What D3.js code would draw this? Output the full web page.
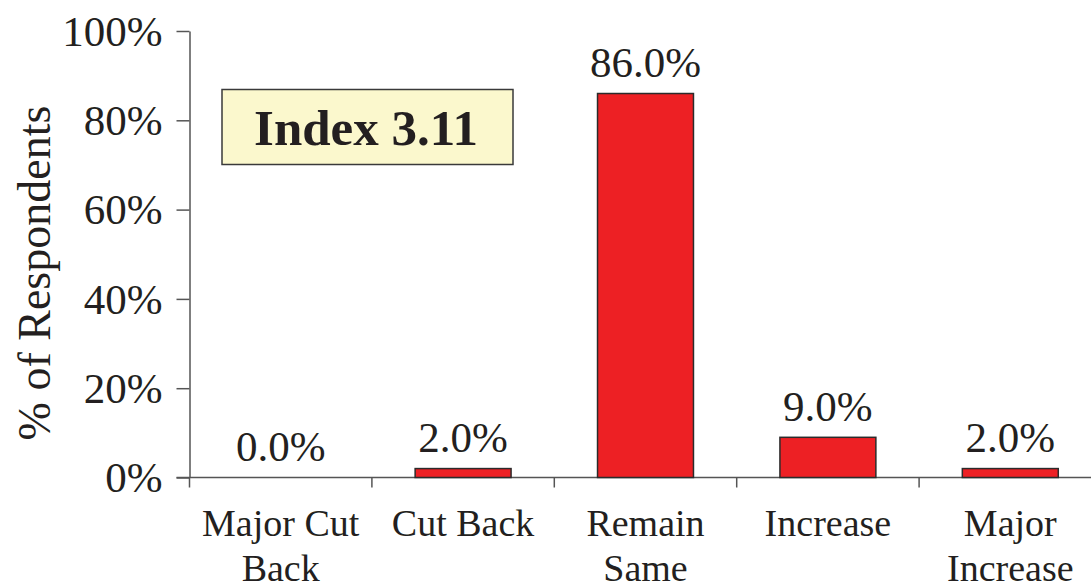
<!DOCTYPE html>
<html>
<head>
<meta charset="utf-8">
<title>Index 3.11</title>
<style>
  body { margin: 0; background: #fff; }
  svg { display: block; }
  text { font-family: "Liberation Serif", "Times New Roman", serif; fill: #231f20; }
</style>
</head>
<body>
<svg width="1091" height="581"></svg>
<script src="https://d3js.org/d3.v7.min.js"></script>
<script>
// data
var categories = [["Major Cut", "Back"], ["Cut Back"], ["Remain", "Same"], ["Increase"], ["Major", "Increase"]];
var values = [0.0, 2.0, 86.0, 9.0, 2.0];
var yTicks = [0, 20, 40, 60, 80, 100];
var indexLabel = "Index 3.11";
var yTitle = "% of Respondents";

var svg = d3.select("svg");
var W = 1091;

var keys = categories.map(function(c) { return c.join(" "); });
var rows = values.map(function(v, i) { return { key: keys[i], value: v }; });

var x = d3.scaleBand()
    .domain(keys)
    .range([189.5, 1101.5])
    .paddingInner(0.474)
    .paddingOuter(0.237);

var y = d3.scaleLinear()
    .domain([0, 100])
    .range([477.5, 31]);

var axisColor = "#555";

// y axis
var yAxis = svg.append("g")
    .attr("transform", "translate(" + x.range()[0] + ",0)")
    .call(d3.axisLeft(y)
        .tickValues(yTicks)
        .tickSize(13)
        .tickSizeOuter(0)
        .tickPadding(14)
        .tickFormat(function(d) { return d + "%"; }));
yAxis.selectAll("path, line").attr("stroke", axisColor).attr("stroke-width", 1.5);
yAxis.selectAll("text")
    .attr("font-size", 43)
    .attr("dy", "0.33em");

// x axis line + ticks between the categories
svg.append("line")
    .attr("x1", x.range()[0] - 13)
    .attr("x2", W)
    .attr("y1", y(0))
    .attr("y2", y(0))
    .attr("stroke", axisColor)
    .attr("stroke-width", 1.5);

svg.selectAll(".xtick")
    .data(keys)
    .enter().append("line")
    .attr("class", "xtick")
    .attr("x1", function(d) { return x(d) - x.step() * x.paddingInner() / 2; })
    .attr("x2", function(d) { return x(d) - x.step() * x.paddingInner() / 2; })
    .attr("y1", y(0))
    .attr("y2", y(0) + 10)
    .attr("stroke", axisColor)
    .attr("stroke-width", 1.5);

// bars (a 0% bar draws nothing)
svg.selectAll(".bar")
    .data(rows.filter(function(d) { return d.value > 0; }))
    .enter().append("rect")
    .attr("class", "bar")
    .attr("x", function(d) { return x(d.key); })
    .attr("y", function(d) { return y(d.value); })
    .attr("width", x.bandwidth())
    .attr("height", function(d) { return y(0) - y(d.value); })
    .attr("fill", "#ed2024")
    .attr("stroke", "#2b2b2b")
    .attr("stroke-width", 1.5);

// value labels
svg.selectAll(".val")
    .data(rows)
    .enter().append("text")
    .attr("class", "val")
    .attr("x", function(d) { return x(d.key) + x.bandwidth() / 2; })
    .attr("y", function(d) { return y(d.value) - 16.5; })
    .attr("text-anchor", "middle")
    .attr("font-size", 43)
    .text(function(d) { return d.value.toFixed(1) + "%"; });

// category labels
var cat = svg.selectAll(".cat")
    .data(categories)
    .enter().append("text")
    .attr("class", "cat")
    .attr("text-anchor", "middle")
    .attr("font-size", 38)
    .attr("y", 536);
cat.selectAll("tspan")
    .data(function(d, i) { return d.map(function(s) { return { s: s, k: keys[i] }; }); })
    .enter().append("tspan")
    .attr("x", function(d) { return x(d.k) + x.bandwidth() / 2; })
    .attr("dy", function(d, j) { return j === 0 ? 0 : 44.5; })
    .text(function(d) { return d.s; });

// y title
svg.append("text")
    .attr("transform", "translate(50,273) rotate(-90)")
    .attr("text-anchor", "middle")
    .attr("font-size", 46)
    .text(yTitle);

// index box
svg.append("rect")
    .attr("x", 222)
    .attr("y", 89.5)
    .attr("width", 291)
    .attr("height", 75)
    .attr("fill", "#fbf8cd")
    .attr("stroke", "#3a3a3a")
    .attr("stroke-width", 1.5);
svg.append("text")
    .attr("x", 366)
    .attr("y", 145)
    .attr("text-anchor", "middle")
    .attr("font-size", 51)
    .attr("font-weight", "bold")
    .text(indexLabel);
</script>
</body>
</html>
